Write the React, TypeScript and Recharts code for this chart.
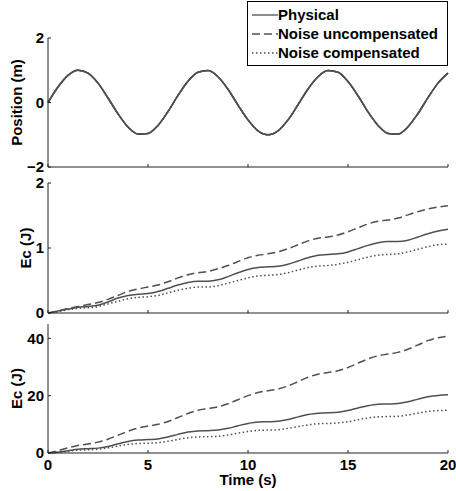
import React from "react";
import { LineChart, Line, XAxis, YAxis, Legend } from "recharts";

const TIME = [0, 0.5, 1, 1.5, 2, 2.5, 3, 3.5, 4, 4.5, 5, 5.5, 6, 6.5, 7, 7.5, 8, 8.5, 9, 9.5, 10, 10.5, 11, 11.5, 12, 12.5, 13, 13.5, 14, 14.5, 15, 15.5, 16, 16.5, 17, 17.5, 18, 18.5, 19, 19.5, 20];

const POSITION = [0, 0.48, 0.84, 1.0, 0.91, 0.6, 0.14, -0.35, -0.76, -0.98, -0.96, -0.71, -0.28, 0.22, 0.66, 0.94, 0.99, 0.8, 0.41, -0.08, -0.54, -0.88, -1.0, -0.88, -0.54, -0.07, 0.42, 0.8, 0.99, 0.94, 0.65, 0.21, -0.29, -0.71, -0.96, -0.98, -0.75, -0.34, 0.15, 0.6, 0.91];

const MID_PHYSICAL = [0, 0.03, 0.06, 0.09, 0.1, 0.12, 0.17, 0.23, 0.27, 0.29, 0.3, 0.33, 0.38, 0.43, 0.47, 0.49, 0.49, 0.51, 0.56, 0.62, 0.67, 0.7, 0.71, 0.72, 0.75, 0.8, 0.85, 0.89, 0.9, 0.91, 0.94, 0.99, 1.04, 1.08, 1.1, 1.1, 1.12, 1.17, 1.22, 1.26, 1.29];
const MID_UNCOMP = [0, 0.03, 0.07, 0.1, 0.13, 0.16, 0.21, 0.27, 0.33, 0.37, 0.4, 0.43, 0.48, 0.54, 0.59, 0.62, 0.64, 0.68, 0.73, 0.79, 0.85, 0.89, 0.91, 0.94, 0.99, 1.05, 1.11, 1.15, 1.17, 1.2, 1.25, 1.31, 1.37, 1.41, 1.43, 1.46, 1.51, 1.56, 1.6, 1.63, 1.65];
const MID_COMP = [0, 0.02, 0.05, 0.07, 0.08, 0.1, 0.14, 0.18, 0.22, 0.24, 0.25, 0.27, 0.31, 0.35, 0.38, 0.4, 0.4, 0.42, 0.46, 0.5, 0.54, 0.57, 0.58, 0.59, 0.62, 0.66, 0.7, 0.72, 0.73, 0.75, 0.78, 0.82, 0.86, 0.89, 0.9, 0.91, 0.94, 0.98, 1.02, 1.05, 1.06];

const BOT_PHYSICAL = [0, 0.3, 0.8, 1.3, 1.5, 1.7, 2.3, 3.2, 4.0, 4.5, 4.7, 4.9, 5.6, 6.5, 7.3, 7.7, 7.8, 8.0, 8.6, 9.5, 10.3, 10.8, 10.9, 11.1, 11.7, 12.6, 13.4, 13.9, 14.0, 14.2, 14.8, 15.7, 16.5, 17.0, 17.1, 17.3, 17.9, 18.8, 19.6, 20.1, 20.3];
const BOT_UNCOMP = [0, 0.8, 1.8, 2.6, 3.1, 3.8, 4.8, 6.2, 7.6, 8.7, 9.4, 10.0, 11.0, 12.4, 13.8, 14.9, 15.5, 16.1, 17.2, 18.6, 20.0, 21.1, 21.7, 22.3, 23.4, 24.9, 26.4, 27.5, 28.1, 28.7, 29.8, 31.3, 32.8, 33.9, 34.5, 35.1, 36.2, 37.7, 39.2, 40.2, 40.8];
const BOT_COMP = [0, 0.3, 0.6, 1.0, 1.1, 1.3, 1.8, 2.4, 3.0, 3.3, 3.4, 3.6, 4.1, 4.7, 5.3, 5.6, 5.7, 5.8, 6.3, 6.9, 7.5, 7.9, 8.0, 8.1, 8.6, 9.2, 9.8, 10.2, 10.3, 10.5, 10.9, 11.6, 12.2, 12.6, 12.7, 12.8, 13.3, 13.9, 14.5, 14.8, 14.9];

const X_TICKS = [0, 5, 10, 15, 20];
const POS_TICKS = [-2, 0, 2];
const MID_TICKS = [0, 1, 2];
const BOT_TICKS = [0, 20, 40];

const SERIES_NAMES = ["Physical", "Noise uncompensated", "Noise compensated"];

const posData = TIME.map((t, i) => ({ t, phys: POSITION[i], unc: POSITION[i], comp: POSITION[i] }));
const midData = TIME.map((t, i) => ({ t, phys: MID_PHYSICAL[i], unc: MID_UNCOMP[i], comp: MID_COMP[i] }));
const botData = TIME.map((t, i) => ({ t, phys: BOT_PHYSICAL[i], unc: BOT_UNCOMP[i], comp: BOT_COMP[i] }));

const FONT = "'Liberation Sans', Arial, Helvetica, sans-serif";
const LINE = "#505050";
const AXIS = "#222";
const tickStyle = { fill: "#000", fontSize: 15, fontWeight: 700, fontFamily: FONT };
const minusFmt = (v: number) => (v < 0 ? "\u2212" + Math.abs(v) : String(v));

const makeYLabel = (text: string, cx: number) => (props: any) => {
  const vb = props.viewBox || {};
  const cy = vb.y + vb.height / 2;
  return (
    <text
      x={cx}
      y={cy}
      transform={`rotate(-90 ${cx} ${cy})`}
      textAnchor="middle"
      dominantBaseline="central"
      style={{ fontSize: 15, fontWeight: 700, fontFamily: FONT, fill: "#000" }}
    >
      {text}
    </text>
  );
};

const LegendBox = () => {
  const rows = [
    { name: SERIES_NAMES[0], dash: undefined },
    { name: SERIES_NAMES[1], dash: "8 4" },
    { name: SERIES_NAMES[2], dash: "1.5 2.5" },
  ];
  return (
    <div
      style={{
        width: 199,
        height: 63,
        border: "1px solid #000",
        background: "#fff",
        position: "relative",
        fontFamily: FONT,
        fontWeight: 700,
        fontSize: 15,
        color: "#000",
      }}
    >
      {rows.map((r, i) => (
        <div
          key={r.name}
          style={{ position: "absolute", left: 3, top: 4 + i * 19, height: 18, display: "flex", alignItems: "center", whiteSpace: "nowrap" }}
        >
          <svg width={28} height={18} style={{ display: "block" }}>
            <line x1={1} y1={9} x2={27} y2={9} stroke={LINE} strokeWidth={1.3} strokeDasharray={r.dash} />
          </svg>
          <span style={{ marginLeft: -1, lineHeight: "18px" }}>{r.name}</span>
        </div>
      ))}
    </div>
  );
};

const lines = (withDash: boolean) => [
  <Line key="phys" dataKey="phys" name={SERIES_NAMES[0]} stroke={LINE} strokeWidth={1.5} dot={false} type="monotone" isAnimationActive={false} />,
  <Line key="unc" dataKey="unc" name={SERIES_NAMES[1]} stroke={LINE} strokeWidth={1.5} dot={false} type="monotone" strokeDasharray={withDash ? "8 4" : undefined} isAnimationActive={false} />,
  <Line key="comp" dataKey="comp" name={SERIES_NAMES[2]} stroke={LINE} strokeWidth={1.5} dot={false} type="monotone" strokeDasharray={withDash ? "1.5 2.5" : undefined} isAnimationActive={false} />,
];

export default function App() {
  return (
    <div style={{ position: "absolute", left: 0, top: 0, width: 456, height: 491, background: "#fff" }}>
      <div style={{ position: "absolute", left: 0, top: 0 }}>
        <LineChart width={456} height={175} data={posData} margin={{ top: 38, right: 8, bottom: 0, left: 0 }}>
          <XAxis dataKey="t" type="number" domain={[0, 20]} ticks={X_TICKS} interval={0} height={8} tickSize={-3} tickFormatter={() => ""} stroke={AXIS} />
          <YAxis type="number" domain={[-2, 2]} ticks={POS_TICKS} interval={0} width={48} tickSize={-3} tickMargin={7} tick={tickStyle} tickFormatter={minusFmt} stroke={AXIS} label={makeYLabel("Position (m)", 16)} />
          {lines(false)}
          <Legend layout="horizontal" verticalAlign="middle" align="center" content={() => <LegendBox />} wrapperStyle={{ left: 247, top: 1, width: 201, height: 65 }} />
        </LineChart>
      </div>
      <div style={{ position: "absolute", left: 0, top: 175 }}>
        <LineChart width={456} height={146} data={midData} margin={{ top: 8, right: 8, bottom: 0, left: 0 }}>
          <XAxis dataKey="t" type="number" domain={[0, 20]} ticks={X_TICKS} interval={0} height={8} tickSize={-3} tickFormatter={() => ""} stroke={AXIS} />
          <YAxis type="number" domain={[0, 2]} ticks={MID_TICKS} interval={0} width={48} tickSize={-3} tickMargin={7} tick={tickStyle} stroke={AXIS} label={makeYLabel("Ec (J)", 25)} />
          {lines(true)}
        </LineChart>
      </div>
      <div style={{ position: "absolute", left: 0, top: 321 }}>
        <LineChart width={456} height={170} data={botData} margin={{ top: 3, right: 8, bottom: 0, left: 0 }}>
          <XAxis
            dataKey="t"
            type="number"
            domain={[0, 20]}
            ticks={X_TICKS}
            interval={0}
            height={38}
            tickSize={-3}
            tickMargin={9}
            tick={tickStyle}
            stroke={AXIS}
            label={{ value: "Time (s)", position: "insideBottom", offset: 6, style: { fontSize: 15, fontWeight: 700, fontFamily: FONT, fill: "#000" } }}
          />
          <YAxis type="number" domain={[0, 45]} ticks={BOT_TICKS} interval={0} width={48} tickSize={-3} tickMargin={7} tick={tickStyle} stroke={AXIS} label={makeYLabel("Ec (J)", 16)} />
          {lines(true)}
        </LineChart>
      </div>
    </div>
  );
}
